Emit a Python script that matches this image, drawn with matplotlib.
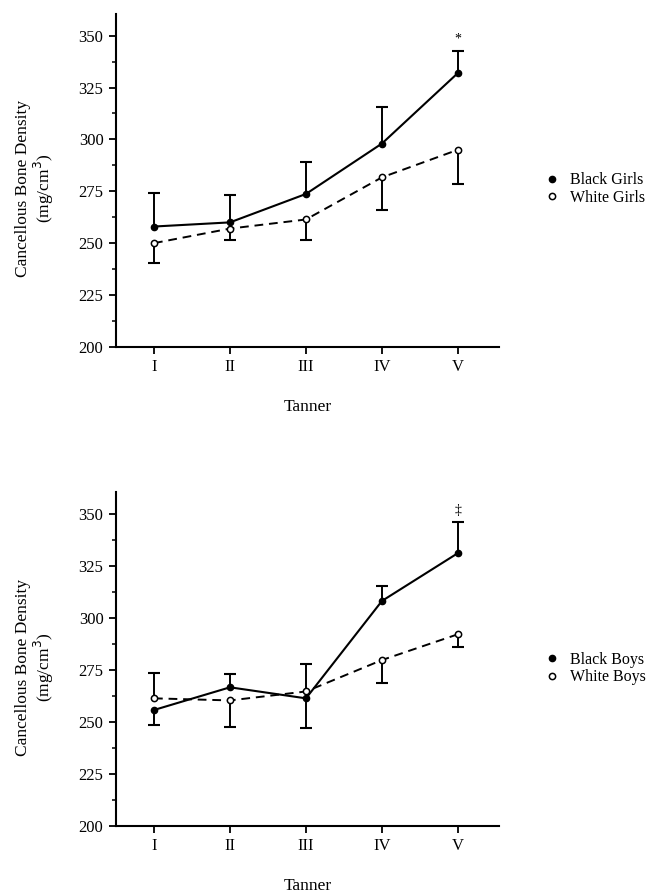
import matplotlib
matplotlib.use('Agg')
import matplotlib.pyplot as plt
from matplotlib.lines import Line2D
from matplotlib.ticker import MultipleLocator

plt.rcParams['font.family'] = ['Liberation Serif', 'DejaVu Serif']

tanner = ['I', 'II', 'III', 'IV', 'V']
xpos = [1, 2, 3, 4, 5]

# girls
black_girls = [258, 260, 273.7, 298, 332]
black_girls_err = [274, 273, 289, 315.5, 342.5]
white_girls = [250, 257, 261.4, 281.7, 295]
white_girls_err = [240.5, 251.6, 251.6, 266, 278.6]

# boys
black_boys = [255.6, 266.5, 261.2, 308, 331]
black_boys_err = [248.4, 272.9, 247, 315.3, 346]
white_boys = [261.2, 260.2, 264.5, 279.6, 292]
white_boys_err = [273.5, 247.3, 277.5, 268.7, 286]

panels = [
    dict(black=black_girls, black_err=black_girls_err,
         white=white_girls, white_err=white_girls_err,
         labels=['Black Girls', 'White Girls'], mark='*', mark_y=348.6,
         rect=[0.179, 0.612, 0.591, 0.3725], leg_y=0.7886),
    dict(black=black_boys, black_err=black_boys_err,
         white=white_boys, white_err=white_boys_err,
         labels=['Black Boys', 'White Boys'], mark='\u2021', mark_y=351.5,
         rect=[0.179, 0.0764, 0.591, 0.3736], leg_y=0.2522),
]

fig = plt.figure(figsize=(6.48, 8.94), dpi=100)

for p in panels:
    ax = fig.add_axes(p['rect'])
    # one-sided error bars
    for vals, ends in [(p['black'], p['black_err']), (p['white'], p['white_err'])]:
        ax.vlines(xpos, vals, ends, color='black', lw=1.4, zorder=2)
        ax.plot(xpos, ends, ls='none', marker='_', ms=8, mew=1.5, color='black', zorder=2)
    ax.plot(xpos, p['black'], color='black', lw=1.5, marker='o', ms=4.5,
            mfc='black', mec='black', zorder=3)
    ax.plot(xpos, p['white'], color='black', lw=1.4, ls=(0, (4.5, 3)), marker='o',
            ms=4.5, mfc='white', mec='black', mew=1.1, zorder=3)
    ax.text(5, p['mark_y'], p['mark'], ha='center', va='center', fontsize=10)

    ax.set_xlim(0.5, 5.54)
    ax.set_ylim(200, 360.5)
    ax.set_xticks(xpos)
    ax.set_xticklabels(tanner)
    ax.yaxis.set_major_locator(MultipleLocator(25))
    ax.yaxis.set_minor_locator(MultipleLocator(12.5))
    ax.tick_params(axis='both', which='major', direction='out', length=5, width=1.3,
                   labelsize=12, pad=4)
    ax.tick_params(axis='y', which='minor', direction='out', length=3, width=1.1)
    for s in ['top', 'right']:
        ax.spines[s].set_visible(False)
    for s in ['left', 'bottom']:
        ax.spines[s].set_linewidth(1.5)

    ax.set_ylabel('Cancellous Bone Density\n(mg/cm$^3$)', fontsize=12.5, linespacing=1.05)
    ax.yaxis.set_label_coords(-0.157, 0.475)
    ax.set_xlabel('Tanner', fontsize=12.5)
    ax.xaxis.set_label_coords(0.5, -0.157)

    handles = [
        Line2D([], [], ls='none', marker='o', ms=4.5, mfc='black', mec='black'),
        Line2D([], [], ls='none', marker='o', ms=4.5, mfc='white', mec='black', mew=1.1),
    ]
    ax.legend(handles, p['labels'], loc='center left', bbox_to_anchor=(0.845, p['leg_y']),
              bbox_transform=fig.transFigure, frameon=False, handlelength=0.6,
              handletextpad=0.8, labelspacing=0.1, borderpad=0, borderaxespad=0,
              fontsize=11.5)

fig.savefig('out.png', dpi=100)
